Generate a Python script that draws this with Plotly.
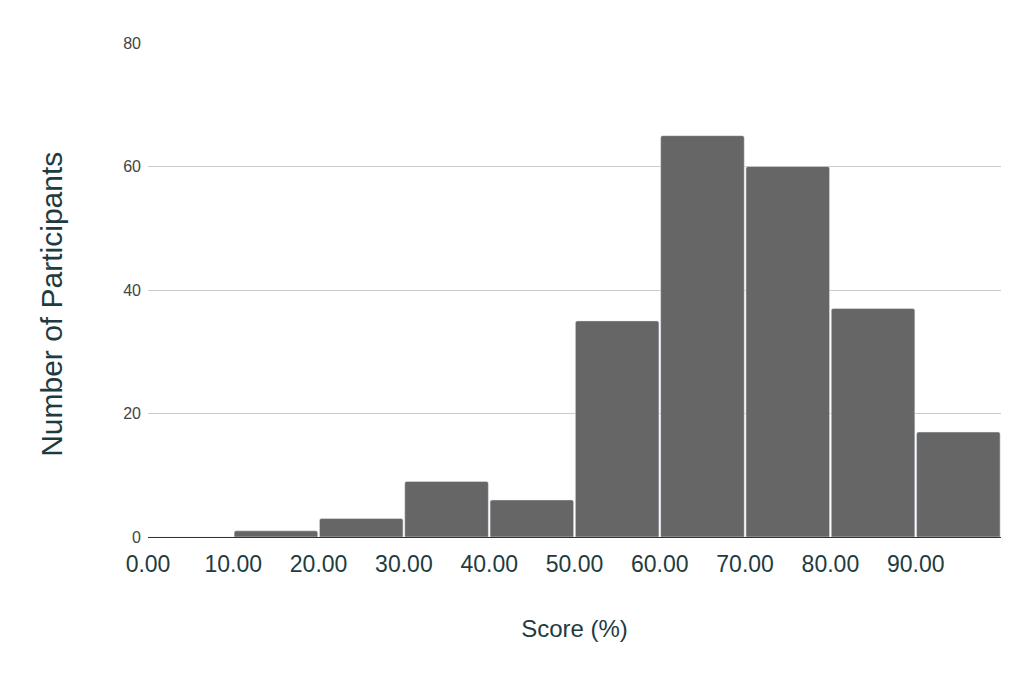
import plotly.graph_objects as go

# histogram bins (lower edges) and counts
bin_starts = [0, 10, 20, 30, 40, 50, 60, 70, 80, 90]
counts = [0, 1, 3, 9, 6, 35, 65, 60, 37, 17]
tick_vals = [0, 10, 20, 30, 40, 50, 60, 70, 80, 90]
tick_text = ["%.2f" % v for v in tick_vals]

title_color = "#1f3b40"

fig = go.Figure(go.Bar(
    x=[b + 5 for b in bin_starts],
    y=counts,
    width=[9.8] * len(counts),
    marker=dict(color="#666666", cornerradius=2),
    hovertemplate="%{x}: %{y}<extra></extra>",
))

fig.update_layout(
    width=1035, height=675,
    margin=dict(l=140, r=42, t=35, b=146),
    plot_bgcolor="white", paper_bgcolor="white",
    font=dict(family="Arial, Liberation Sans, sans-serif"),
    showlegend=False,
)
fig.update_xaxes(
    range=[0, 100], tickvals=tick_vals, ticktext=tick_text,
    tickfont=dict(size=23, color=title_color), ticklabelstandoff=6,
    showgrid=False, showline=True, linecolor="#333333", linewidth=1,
    title=dict(text="Score (%)", font=dict(size=24, color=title_color), standoff=44),
)
fig.update_yaxes(
    range=[0, 80], dtick=20,
    tickfont=dict(size=16, color="#444444"),
    gridcolor="#cccccc", zeroline=False, ticklabelstandoff=6,
)
# y title sits a bit below the plot's middle, so place it as an annotation
fig.add_annotation(
    text="Number of Participants", textangle=-90,
    xref="paper", yref="paper", x=-0.1125, y=0.47,
    xanchor="center", yanchor="middle", showarrow=False,
    font=dict(size=30, color=title_color),
)

fig.write_html("out.html")
